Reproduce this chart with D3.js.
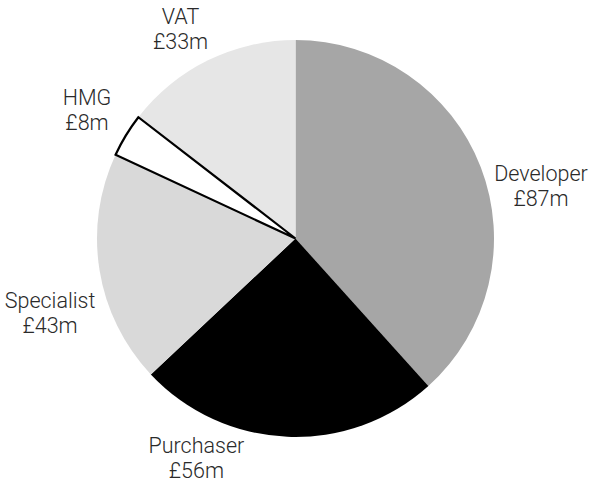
<!DOCTYPE html>
<html><head><meta charset="utf-8">
<script src="https://cdn.jsdelivr.net/npm/d3@7"></script>
<style>html,body{margin:0;padding:0;background:#fff;}svg{display:block;}</style>
</head><body>
<div id="chart"></div>
<script>
const categories = ["Developer", "Purchaser", "Specialist", "HMG", "VAT"];
const values = [87, 56, 43, 8, 33];
const valueLabels = ["£87m", "£56m", "£43m", "£8m", "£33m"];
const colors = ["#a6a6a6", "#000000", "#d9d9d9", "#ffffff", "#e6e6e6"];

const W = 592, H = 486;
const cx = 295.5, cy = 238.5, R = 198.5;
// label layout (angle in degrees clockwise from top, distance from centre)
const labelLayout = [[79.6, 249.6], [203.6, 247.6], [251.5, 258.8], [300.1, 241], [330.4, 232.7]];

const svg = d3.select("#chart").append("svg").attr("width", W).attr("height", H);
const g = svg.append("g").attr("transform", `translate(${cx},${cy})`);

const data = categories.map((c, i) => ({cat: c, value: values[i], label: valueLabels[i], color: colors[i], idx: i}));
const pie = d3.pie().value(d => d.value).sort(null);
const arcs = pie(data);
const arc = d3.arc().innerRadius(0).outerRadius(R);

g.selectAll("path.slice").data(arcs.filter(a => a.data.cat !== "HMG")).enter().append("path")
  .attr("class", "slice")
  .attr("d", arc)
  .attr("fill", d => d.data.color);

g.selectAll("path.hmg").data(arcs.filter(a => a.data.cat === "HMG")).enter().append("path")
  .attr("class", "hmg")
  .attr("d", arc)
  .attr("fill", d => d.data.color)
  .attr("stroke", "#000")
  .attr("stroke-width", 2.2)
  .attr("stroke-linejoin", "miter");

const lbl = g.selectAll("text.lbl").data(arcs).enter().append("text")
  .attr("class", "lbl")
  .attr("text-anchor", "middle")
  .attr("font-family", "Roboto, 'Liberation Sans', sans-serif")
  .attr("font-weight", 300)
  .attr("font-size", 21.5)
  .attr("fill", "#2a2a2a")
  .attr("transform", d => {
    const [a, r] = labelLayout[d.data.idx];
    const rad = a * Math.PI / 180;
    return `translate(${r * Math.sin(rad)},${-r * Math.cos(rad)})`;
  });
lbl.append("tspan").attr("x", 0).attr("y", -12.5).text(d => d.data.cat);
lbl.append("tspan").attr("x", 0).attr("y", 12.5).text(d => d.data.label);
</script>
</body></html>
